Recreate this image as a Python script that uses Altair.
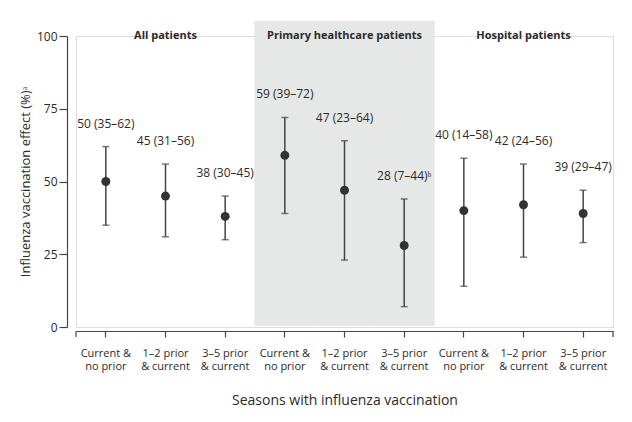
import json
import altair as alt
import pandas as pd

# ---- data ----
groups = ["All patients"] * 3 + ["Primary healthcare patients"] * 3 + ["Hospital patients"] * 3
label_line1 = ["Current &", "1–2 prior", "3–5 prior",
               "Current &", "1–2 prior", "3–5 prior",
               "Current &", "1–2 prior", "3–5 prior"]
label_line2 = ["no prior", "& current", "& current",
               "no prior", "& current", "& current",
               "no prior", "& current", "& current"]
effect = [50, 45, 38, 59, 47, 28, 40, 42, 39]
ci_low = [35, 31, 30, 39, 23, 7, 14, 24, 29]
ci_high = [62, 56, 45, 72, 64, 44, 58, 56, 47]
point_labels = ["50 (35–62)", "45 (31–56)", "38 (30–45)",
                "59 (39–72)", "47 (23–64)", "28 (7–44)ᵇ",
                "40 (14–58)", "42 (24–56)", "39 (29–47)"]
group_titles = ["All patients", "Primary healthcare patients", "Hospital patients"]
group_title_pos = [1, 4, 7]
shaded_group = "Primary healthcare patients"
y_ticks = [0, 25, 50, 75, 100]

df = pd.DataFrame({
    "idx": list(range(len(effect))),
    "group": groups,
    "effect": effect,
    "lo": ci_low,
    "hi": ci_high,
    "label": point_labels,
})
titles_df = pd.DataFrame({"idx": group_title_pos, "title": group_titles})

FONT = "Open Sans"
TXT = "#2b2b2b"
LINE = "#444444"
SHADE = "#e6e7e7"

label_arr = json.dumps([[a, b] for a, b in zip(label_line1, label_line2)], ensure_ascii=False)

x_scale = alt.Scale(type="band", paddingInner=0, paddingOuter=0)
x_enc = alt.X("idx:O", scale=x_scale, sort="ascending",
              axis=alt.Axis(title="Seasons with influenza vaccination",
                            labelExpr=label_arr + "[datum.value]",
                            labelAngle=0, labelFontSize=11, labelLineHeight=13,
                            labelPadding=10, labelColor=TXT, labelFont=FONT,
                            titleFont=FONT, titleFontSize=14, titleFontWeight="normal",
                            titleColor=TXT, titlePadding=22,
                            tickSize=6, offset=4, domainColor=LINE, tickColor=LINE,
                            domainWidth=1.2, tickWidth=1.2))
y_scale = alt.Scale(domain=[0, 100], nice=False, zero=True)

base = alt.Chart(df)

shade = alt.Chart(df).transform_filter(
    alt.datum.group == shaded_group
).transform_calculate(ylo="0.7", yhi="105").mark_rect(
    color=SHADE, stroke=SHADE, strokeWidth=1.5
).encode(
    x=x_enc,
    y=alt.Y("ylo:Q", scale=y_scale,
            axis=alt.Axis(title="Influenza vaccination effect (%)ᵃ", values=y_ticks,
                          labelFontSize=12, labelColor=TXT, labelFont=FONT, labelPadding=2,
                          titleFont=FONT, titleFontSize=13, titleFontWeight="normal",
                          titleColor=TXT, titlePadding=4,
                          tickSize=8, offset=9, domainColor=LINE, tickColor=LINE,
                          domainWidth=1.2, tickWidth=1.2, grid=False)),
    y2="yhi:Q",
)

bars = base.mark_rule(color=LINE, strokeWidth=1.5).encode(
    x=alt.X("idx:O", scale=x_scale), y=alt.Y("lo:Q", scale=y_scale), y2="hi:Q")
cap_hi = base.mark_tick(color=LINE, size=7, thickness=1.5).encode(
    x=alt.X("idx:O", scale=x_scale), y=alt.Y("hi:Q", scale=y_scale))
cap_lo = base.mark_tick(color=LINE, size=7, thickness=1.5).encode(
    x=alt.X("idx:O", scale=x_scale), y=alt.Y("lo:Q", scale=y_scale))
points = base.mark_point(filled=True, color="#333333", size=80, opacity=1).encode(
    x=alt.X("idx:O", scale=x_scale), y=alt.Y("effect:Q", scale=y_scale))
labels = base.mark_text(font=FONT, fontSize=12, color=TXT, dy=-23, baseline="middle").encode(
    x=alt.X("idx:O", scale=x_scale), y=alt.Y("hi:Q", scale=y_scale), text="label:N")
gtitles = alt.Chart(titles_df).mark_text(font=FONT, fontSize=11, fontWeight="bold",
                                         color=TXT, baseline="middle", dy=0).encode(
    x=alt.X("idx:O", scale=x_scale), y=alt.datum(100), text="title:N")

end_l = alt.Chart(df).mark_rule(color=LINE, strokeWidth=1.2).encode(
    x=alt.X("min(idx):O", scale=x_scale, bandPosition=0),
    y=alt.value(295), y2=alt.value(301))
end_r = alt.Chart(df).mark_rule(color=LINE, strokeWidth=1.2).encode(
    x=alt.X("max(idx):O", scale=x_scale, bandPosition=1),
    y=alt.value(295), y2=alt.value(301))

chart = alt.layer(shade, bars, cap_hi, cap_lo, points, labels, gtitles, end_l, end_r).properties(
    width=537, height=291,
    autosize=alt.AutoSizeParams(type="none"),
    padding={"left": 68, "top": 28, "right": 10, "bottom": 80},
).configure_view(stroke=None).configure(background="white")

chart.save("out.html", embed_options={"renderer": "svg", "actions": False})
